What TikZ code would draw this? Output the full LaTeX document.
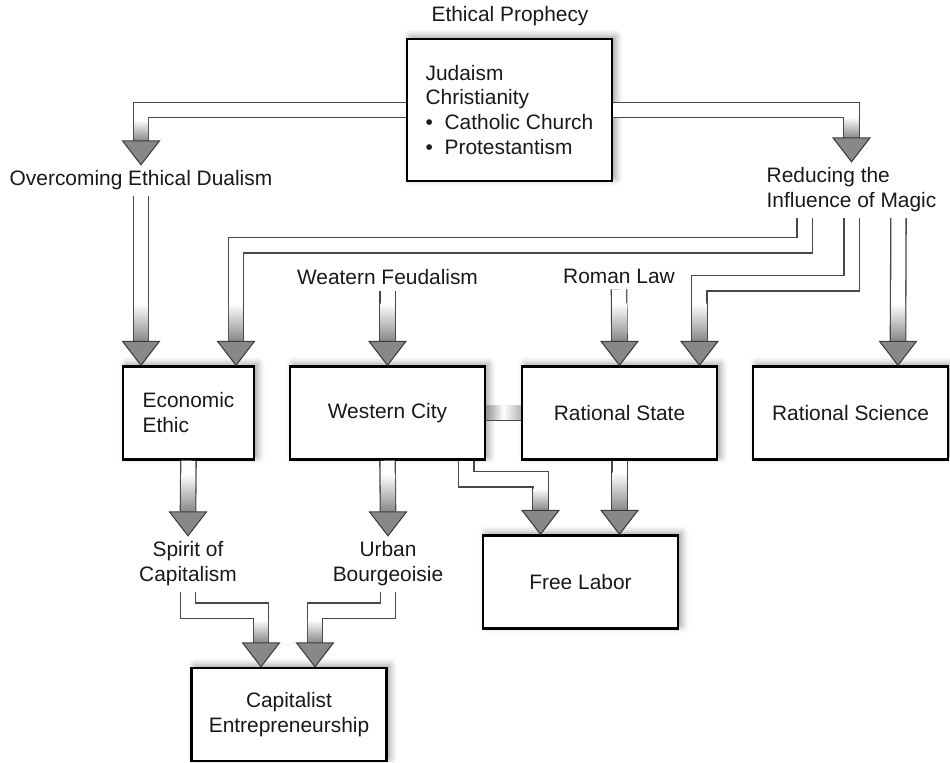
\documentclass[tikz,border=0pt]{standalone}
\usepackage{fontspec}
\setmainfont{Liberation Sans}
\usepackage{tikz}
\usetikzlibrary{calc,shadows.blur}
\definecolor{shaftline}{HTML}{484848}
\definecolor{headgray}{HTML}{888888}
\definecolor{headline}{HTML}{3C3C3C}
\definecolor{barshade}{HTML}{959595}
\newcommand{\itm}{\makebox[10.8pt][l]{\textbullet}}
% hollow arrow: [gradient length]{path up to the last corner}{tip}
\newcommand{\fatarrow}[3][38]{%
  \path #3 ++(0,-24) coordinate (ahd);
  \draw[shaft] #2 (ahd);
  \shade[top color=white,bottom color=headgray] ($(ahd)+(-7,-#1)$) rectangle ($(ahd)+(7,0)$);
  \draw[head] (ahd) ++(-18.5,0) -- ++(37,0) -- #3 -- cycle;
}

\begin{document}
\begin{tikzpicture}[line cap=butt,line join=miter,x=0.02cm,y=-0.02cm,
  font=\fontsize{11.9pt}{14.2pt}\selectfont,
  box/.style={draw=black,line width=1.4pt,fill=white,text=black!90,
    minimum width=3.9cm,minimum height=1.86cm,
    blur shadow={shadow xshift=2pt,shadow yshift=1.5pt,shadow blur radius=4pt,shadow opacity=40}},
  lbl/.style={inner sep=0pt,outer sep=3.4pt,text=black!90},
  shaft/.style={draw=shaftline,line width=0.75pt,double=white,double distance=0.28cm},
  head/.style={draw=headline,fill=headgray,line width=0.6pt}]
\useasboundingbox (0,0) rectangle (950,763);
% top
\node[lbl] (proph) at (510,16.5) {Ethical Prophecy};
\node[box,minimum width=4.1cm,minimum height=2.84cm,align=left] (relig) at (509.5,110)
  {Judaism\\Christianity\\\itm Catholic Church\\\itm Protestantism};
\node[lbl] (dual) at (141,180.5) {Overcoming Ethical Dualism};
\node[lbl,align=left] (magic) at (851.5,190) {Reducing the\\Influence of Magic};
\node[lbl] (feud) at (387.5,277) {Weatern Feudalism};
\node[lbl] (roman) at (619,276) {Roman Law};
% middle row
\node[box,minimum width=2.62cm,align=left] (econ) at (188.5,413) {Economic\\Ethic};
\node[box] (wcity) at (387.5,413) {Western City};
\node[box] (rstate) at (619.5,413) {Rational State};
\node[box] (rsci) at (850.5,413) {Rational Science};
% bottom
\node[lbl,align=center] (spirit) at (188,564) {Spirit of\\Capitalism};
\node[lbl,align=center] (urban) at (388,564) {Urban\\Bourgeoisie};
\node[box] (labor) at (580.5,582) {Free Labor};
\node[box,align=center] (capent) at (289,714.5) {Capitalist\\Entrepreneurship};

% arrows
\fatarrow[21]{(relig.west) -|}{(dual.north)}
\fatarrow[21]{(relig.east) -|}{(magic.north)}
\fatarrow{(dual.south) --}{(econ.north -| dual.south)}
\fatarrow{([xshift=-0.94cm]magic.south) -- ++(0,27) -|}{([xshift=0.95cm]econ.north)}
\fatarrow{(magic.south) -- ++(0,65) -|}{([xshift=1.6cm]rstate.north)}
\fatarrow{([xshift=0.94cm]magic.south) --}{([xshift=0.95cm]rsci.north)}
\fatarrow{(feud.south) --}{(wcity.north)}
\fatarrow{(roman.south) --}{(rstate.north)}
\draw[shaft] (wcity.east) -- (rstate.west);
\shade[left color=barshade,right color=barshade!70!white,middle color=white]
  ($(wcity.east)+(0,-7)$) rectangle ($(rstate.west)+(0,7)$);
\fatarrow{(econ.south) --}{(spirit.north)}
\fatarrow{(wcity.south) --}{(urban.north)}
\fatarrow[22]{([xshift=1.58cm]wcity.south) -- ++(0,18.5) -|}{([xshift=-0.8cm]labor.north)}
\fatarrow{(rstate.south) --}{(labor.north -| rstate.south)}
\fatarrow[23]{(spirit.south) -- ++(0,18.6) -|}{([xshift=-0.56cm]capent.north)}
\fatarrow[23]{(urban.south) -- ++(0,18.6) -|}{([xshift=0.52cm]capent.north)}
\end{tikzpicture}
\end{document}
